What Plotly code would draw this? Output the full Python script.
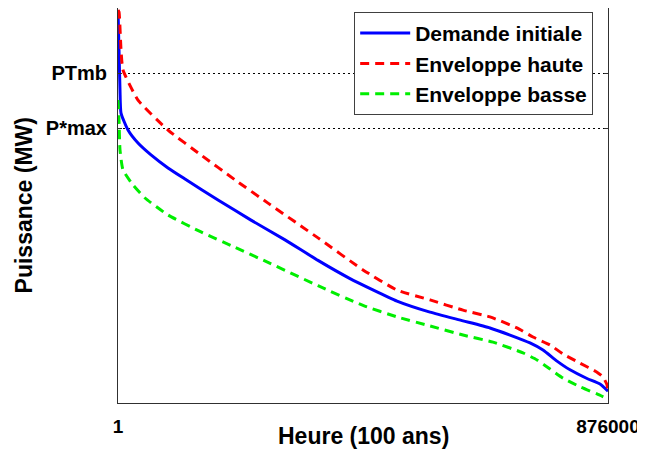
import plotly.graph_objects as go

# Monotone load-duration curves (hours over 100 years, MW on a 0-100 scale)
hours_demande = [1, 1789, 3577, 5364, 17879, 35756, 58997, 89389, 119781, 178776, 237772,
                 298555, 357551, 414759, 498784, 557779, 616776, 665044, 700795, 736554,
                 759795, 784825, 808066, 838457, 861698, 876000]
p_demande = [99.5, 89.4, 79.2, 73.4, 69.1, 65.8, 62.8, 59.5, 56.7, 51.4, 46.3,
             41.3, 36.1, 31.5, 25.8, 23.0, 20.8, 19.0, 17.2, 15.2,
             13.4, 10.6, 8.4, 6.2, 4.8, 3.0]

hours_haute = [1, 1789, 5364, 8940, 35756, 89389, 148384, 209168, 268164, 357551, 438000,
               498784, 557779, 616775, 665044, 713313, 741917, 772308, 795549, 825941,
               856332, 867059, 874212, 876000]
p_haute = [99.5, 99.0, 89.4, 84.3, 76.7, 69.1, 62.8, 56.5, 50.6, 41.8, 33.7,
           28.6, 26.1, 23.5, 21.8, 19.0, 16.7, 14.7, 12.4, 10.1,
           7.8, 6.6, 4.6, 2.8]

hours_basse = [1, 1789, 3577, 8940, 26817, 48270, 89389, 148384, 209168, 268164, 357551,
               438000, 498784, 557779, 616775, 670407, 724040, 749068, 772308, 795549,
               825941, 856332, 876000]
p_basse = [76.7, 71.6, 64.1, 59.0, 55.2, 51.9, 47.6, 43.3, 39.4, 35.6, 29.7,
           24.7, 21.8, 19.5, 17.2, 15.4, 12.7, 10.9, 8.6, 6.3,
           4.1, 2.3, 1.0]

y_tick_vals = [69.6, 83.5]
y_tick_text = ["P*max", "PTmb"]
x_tick_vals = [1, 876000]
x_tick_text = ["1", "876000"]

FONT = "Liberation Sans, Arial, sans-serif"

fig = go.Figure()
fig.add_trace(go.Scatter(x=hours_demande, y=p_demande, mode="lines", name="Demande initiale",
                         line=dict(color="#0000ff", width=3, shape="spline", smoothing=0.5)))
fig.add_trace(go.Scatter(x=hours_haute, y=p_haute, mode="lines", name="Enveloppe haute",
                         line=dict(color="#ff0000", width=3, dash="9px,6px",
                                   shape="spline", smoothing=0.5)))
fig.add_trace(go.Scatter(x=hours_basse, y=p_basse, mode="lines", name="Enveloppe basse",
                         line=dict(color="#00ee00", width=3, dash="9px,6px",
                                   shape="spline", smoothing=0.5)))

# the page body adds an 8px margin, so the figure is 8px smaller and margins shifted
fig.update_layout(
    width=637, height=451,
    margin=dict(l=110, r=37, t=0, b=56, autoexpand=False),
    paper_bgcolor="white", plot_bgcolor="white",
    font=dict(family=FONT, size=20, color="black"),
    legend=dict(x=0.482, y=0.99, xanchor="left", yanchor="top",
                bgcolor="white", bordercolor="#404040", borderwidth=1,
                font=dict(family=FONT, size=21, color="black", weight="bold"),
                itemwidth=50, tracegroupgap=0),
    showlegend=True,
    annotations=[
        dict(text="<b>Heure (100 ans)</b>", x=0.5, y=-0.084, xref="paper", yref="paper",
             xanchor="center", yanchor="middle", showarrow=False,
             font=dict(family=FONT, size=23, color="black")),
        dict(text="<b>Puissance (MW)</b>", x=-0.192, y=0.5, xref="paper", yref="paper",
             xanchor="center", yanchor="middle", showarrow=False, textangle=-90,
             font=dict(family=FONT, size=23, color="black")),
    ],
)
fig.update_xaxes(
    range=[1, 876000], tickvals=x_tick_vals, ticktext=x_tick_text,
    showgrid=False, zeroline=False, automargin=False,
    showline=True, linecolor="#303030", linewidth=1, mirror=True,
    ticks="inside", ticklen=4, tickcolor="#303030", ticklabelstandoff=6,
    tickfont=dict(family=FONT, size=19, weight="bold"),
)
fig.update_yaxes(
    range=[0, 100], tickvals=y_tick_vals, ticktext=y_tick_text,
    showgrid=True, gridcolor="black", gridwidth=1, griddash="2px,3px",
    zeroline=False, automargin=False,
    showline=True, linecolor="#303030", linewidth=1, mirror="ticks",
    ticks="inside", ticklen=4, tickcolor="#303030", ticklabelstandoff=6,
    tickfont=dict(family=FONT, size=20, weight="bold"),
)

fig.write_html("out.html")
